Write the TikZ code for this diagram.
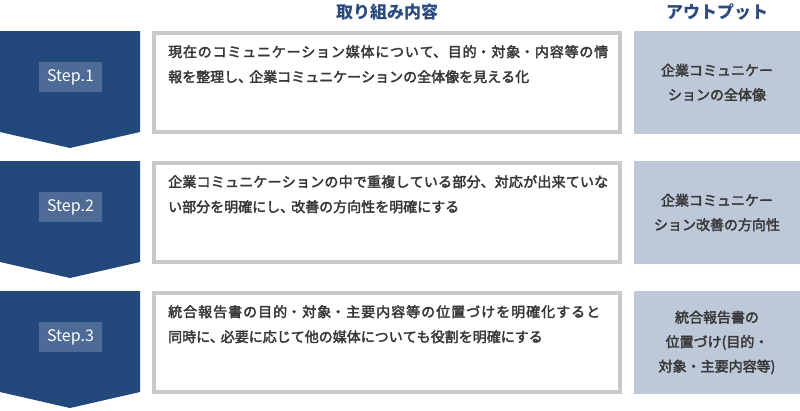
\documentclass[tikz,border=0pt]{standalone}
\usepackage{fontspec}
\setmainfont{Noto Sans CJK JP}
\newcommand{\bodyweight}{\special{pdf:literal direct 2 Tr 0.35 w}}
\XeTeXlinebreaklocale "ja"
\XeTeXlinebreakskip=0pt plus 3pt
\definecolor{stepblue}{RGB}{35,72,124}
\definecolor{labelblue}{RGB}{78,107,152}
\definecolor{headblue}{RGB}{43,75,128}
\definecolor{framegray}{RGB}{200,201,202}
\definecolor{outfill}{RGB}{189,200,216}
\definecolor{bodytext}{RGB}{55,55,55}
\newcommand{\tightcomma}{、\kern-3pt}
\begin{document}
\begin{tikzpicture}
  [
    x=1pt, y=-1pt,
    inner sep=0mm,
    head/.style={text=headblue,font=\fontsize{17}{20}\selectfont\bfseries},
    chevron/.style={fill=stepblue},
    steplabel/.style={rectangle,fill=labelblue,text=white,minimum width=63pt,minimum height=30pt,font=\fontsize{16}{18}\selectfont},
    taskbox/.style={rectangle,draw=framegray,line width=4pt,fill=white,minimum width=466pt,minimum height=99pt},
    tasktext/.style={anchor=north west,text=bodytext,text width=440pt,align=justify,font=\fontsize{14}{25}\selectfont\bodyweight},
    outbox/.style={rectangle,fill=outfill,minimum width=166pt,minimum height=103pt},
    outtext/.style={text=bodytext,align=center,font=\fontsize{14}{24.5}\selectfont\bodyweight},
  ]
  \useasboundingbox (0,0) rectangle (800,410);

  \node[head] (task head)   at (387,12) {取り組み内容};
  \node[head] (output head) at (717,12) {アウトプット};

  \fill[chevron] (0,31) -- (140,31) -- (140,132) -- (70,148) -- (0,132) -- cycle;
  \fill[chevron] (0,161) -- (140,161) -- (140,262) -- (70,278) -- (0,262) -- cycle;
  \fill[chevron] (0,291) -- (140,291) -- (140,392) -- (70,408) -- (0,392) -- cycle;

  \node[steplabel] (step1) at (70.5,77)  {Step.1};
  \node[steplabel] (step2) at (70.5,207) {Step.2};
  \node[steplabel] (step3) at (70.5,337) {Step.3};

  \node[taskbox] (task1) at (387,82.5)  {};
  \node[taskbox] (task2) at (387,212.5) {};
  \node[taskbox] (task3) at (387,342.5) {};

  \node[tasktext] (task1 text) at (168,45)
    {現在のコミュニケーション媒体について、目的・対象・内容等の情\linebreak 報を整理し\tightcomma 企業コミュニケーションの全体像を見える化};
  \node[tasktext] (task2 text) at (168,175)
    {企業コミュニケーションの中で重複している部分、対応が出来ていな\linebreak い部分を明確にし\tightcomma 改善の方向性を明確にする};
  \node[tasktext,text width=432pt] (task3 text) at (168,305)
    {統合報告書の目的・対象・主要内容等の位置づけを明確化すると\linebreak 同時に\tightcomma 必要に応じて他の媒体についても役割を明確にする};

  \node[outbox] (out1) at (717,82.5)  {};
  \node[outbox] (out2) at (717,212.5) {};
  \node[outbox] (out3) at (717,342.5) {};

  \node[outtext] (out1 text) at (717,82.5)  {企業コミュニケー\\ションの全体像};
  \node[outtext] (out2 text) at (717,212.5) {企業コミュニケー\\ション改善の方向性};
  \node[outtext] (out3 text) at (717,342.5) {統合報告書の\\位置づけ(目的・\\対象・主要内容等)};
\end{tikzpicture}
\end{document}
